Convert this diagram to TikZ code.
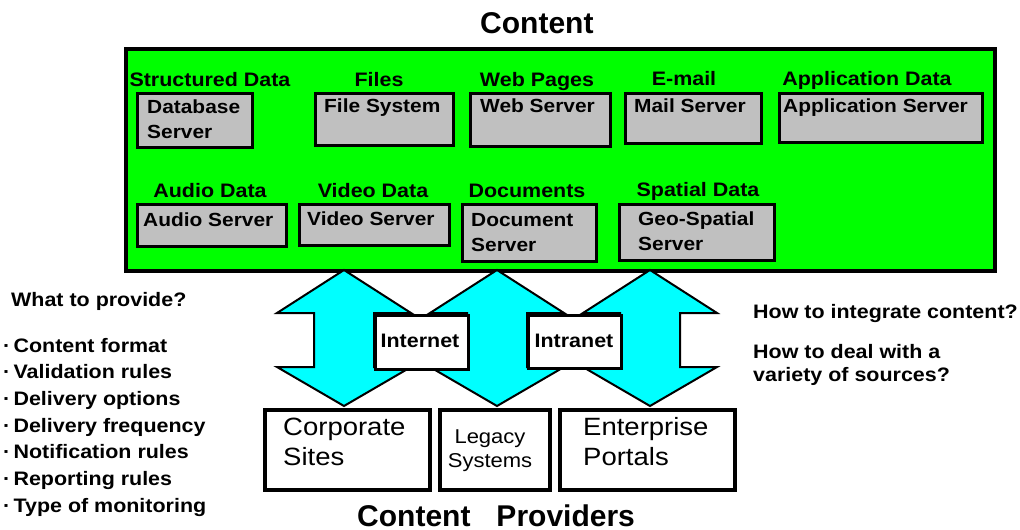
\documentclass[tikz,border=0pt]{standalone}
\usepackage{fontspec}
\setmainfont{Liberation Sans}
\newfontfamily\widefont{Liberation Sans}[FakeStretch=1.1]
\definecolor{cgreen}{RGB}{0,255,0}
\definecolor{ccyan}{RGB}{0,255,255}
\definecolor{cgray}{RGB}{192,192,192}
\begin{document}
\begin{tikzpicture}[x=1pt,y=-1pt,
  graybox/.style={draw=black,line width=2.5pt,fill=cgray,inner sep=0pt,anchor=north west},
  boxtxt/.style={font=\widefont\fontsize{19}{25}\selectfont\bfseries,align=left,anchor=base west,inner sep=0pt},
  cattxt/.style={font=\widefont\fontsize{19.5}{22}\selectfont\bfseries,anchor=base,inner sep=0pt},
  provbox/.style={draw=black,line width=4pt,fill=white,inner sep=0pt,anchor=north west},
  provtxt/.style={font=\widefont\fontsize{25}{30}\selectfont,align=left,anchor=base west,inner sep=0pt},
  netbox/.style={draw=black,line width=2.5pt,fill=white,inner sep=0pt,anchor=north west},
  nettxt/.style={font=\widefont\fontsize{19.5}{22}\selectfont\bfseries,anchor=base,inner sep=0pt},
  sidetxt/.style={font=\widefont\fontsize{19.5}{22}\selectfont\bfseries,align=left,anchor=base west,inner sep=0pt},
  title/.style={font=\fontsize{30}{34}\selectfont\bfseries,anchor=base west,inner sep=0pt},
  blockarrow/.style={draw=black,line width=2pt,fill=ccyan,line join=miter}
]
\useasboundingbox (0,0) rectangle (1020,530);

% title
\node[title] (ttl) at (480,33) {Content};

% green content box
\node[draw=black,line width=4pt,fill=cgreen,inner sep=0pt,anchor=north west,
  minimum width=869pt,minimum height=222pt] (content) at (124,47) {};

% row 1 categories
\node[cattxt] (c1) at (210,86) {Structured Data};
\node[cattxt] (c2) at (379,86) {Files};
\node[cattxt] (c3) at (537,86) {Web Pages};
\node[cattxt] (c4) at (684,85) {E-mail};
\node[cattxt] (c5) at (867,85) {Application Data};
% row 2 categories
\node[cattxt] (c6) at (210,197) {Audio Data};
\node[cattxt] (c7) at (373,197) {Video Data};
\node[cattxt] (c8) at (527,197) {Documents};
\node[cattxt] (c9) at (698,196) {Spatial Data};

% gray server boxes
\node[graybox,minimum width=115pt,minimum height=54pt] (db) at (136,92) {};
\node[graybox,minimum width=138pt,minimum height=52pt] (fs) at (314,92) {};
\node[graybox,minimum width=140pt,minimum height=53pt] (ws) at (469,92) {};
\node[graybox,minimum width=136pt,minimum height=50pt] (ms) at (624,92) {};
\node[graybox,minimum width=203pt,minimum height=49pt] (as) at (778,92) {};
\node[graybox,minimum width=149pt,minimum height=42pt] (au) at (136,203) {};
\node[graybox,minimum width=150pt,minimum height=41pt] (vs) at (298,203) {};
\node[graybox,minimum width=134pt,minimum height=57pt] (dc) at (461,203) {};
\node[graybox,minimum width=155pt,minimum height=56pt] (gs) at (618,203) {};

% (base of a two-line node = baseline of its last line)
\node[boxtxt] (tdb) at (147,138) {Database\\Server};
\node[boxtxt] (tfs) at (324,112) {File System};
\node[boxtxt] (tws) at (480,112) {Web Server};
\node[boxtxt] (tms) at (634,112) {Mail Server};
\node[boxtxt] (tas) at (783,112) {Application Server};
\node[boxtxt] (tau) at (143,226) {Audio Server};
\node[boxtxt] (tvs) at (307,225) {Video Server};
\node[boxtxt] (tdc) at (471,251) {Document\\Server};
\node[boxtxt] (tgs) at (638,250) {Geo-Spatial\\Server};

% block arrows
\foreach \c/\n in {344/a1,497/a2,650/a3}{
  \draw[blockarrow] (\c,270) -- (\c+67,313) -- (\c+30,313) -- (\c+30,367) -- (\c+67,367)
    -- (\c,406) -- (\c-67,367) -- (\c-30,367) -- (\c-30,313) -- (\c-67,313) -- cycle;
}

% network label boxes
\node[netbox,minimum width=93pt,minimum height=54pt] (inet) at (374,314) {};
\node[nettxt] at (420,347) {Internet};
\node[netbox,minimum width=93pt,minimum height=53pt] (intra) at (527,314) {};
\node[nettxt] at (574,347) {Intranet};

% provider boxes
\node[provbox,minimum width=165pt,minimum height=80pt] (corp) at (263,408) {};
\node[provbox,minimum width=110pt,minimum height=80pt] (leg) at (438,408) {};
\node[provbox,minimum width=175pt,minimum height=80pt] (ent) at (558,408) {};
\node[provtxt] at (283,465) {Corporate\\Sites};
\node[font=\widefont\fontsize{20}{24}\selectfont,align=center,anchor=base,inner sep=0pt] at (490,467) {Legacy\\Systems};
\node[provtxt] at (583,465) {Enterprise\\Portals};

\node[title] (ptl) at (357,526) {Content\hspace{26pt}Providers};

% left notes
\node[sidetxt] (what) at (11,306) {What to provide?};
\foreach \t [count=\i from 0] in {Content format,Validation rules,Delivery options,Delivery frequency,Notification rules,Reporting rules,Type of monitoring}{
  \node[sidetxt] at (3,352+26.7*\i) {·\,\t};
}

% right notes
\node[sidetxt] (how1) at (753,318) {How to integrate content?};
\node[sidetxt] (how2) at (753,358) {How to deal with a};
\node[sidetxt] (how3) at (753,381) {variety of sources?};
\end{tikzpicture}
\end{document}
